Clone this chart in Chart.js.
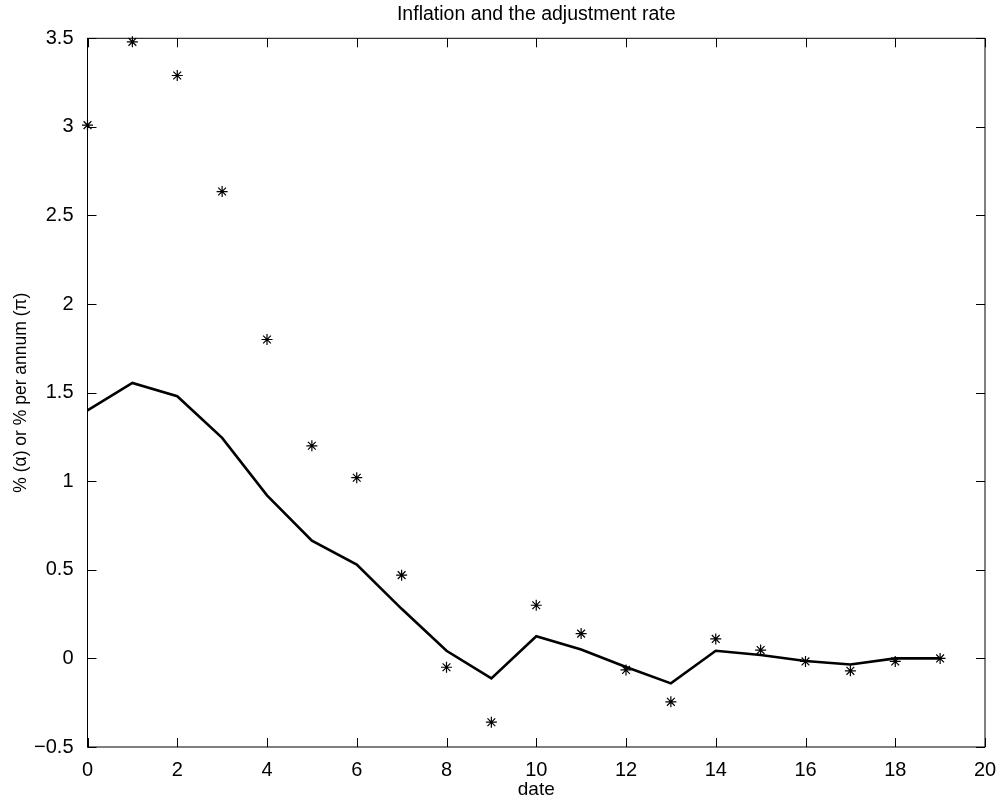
<!DOCTYPE html>
<html>
<head>
<meta charset="utf-8">
<script src="https://cdn.jsdelivr.net/npm/chart.js@4/dist/chart.umd.min.js"></script>
<style>
  html, body { margin: 0; padding: 0; background: #fff; }
  #wrap { width: 1003px; height: 807px; }
</style>
</head>
<body>
<div id="wrap"><canvas id="chart" width="1003" height="807"></canvas></div>
<script>
// dates 0..19
const dates = [0, 1, 2, 3, 4, 5, 6, 7, 8, 9, 10, 11, 12, 13, 14, 15, 16, 17, 18, 19];
// inflation (stars)
const inflation = [3.01, 3.48, 3.29, 2.635, 1.80, 1.20, 1.02, 0.47, -0.05, -0.36,
  0.30, 0.14, -0.065, -0.245, 0.11, 0.047, -0.017, -0.07, -0.017, 0.0];
// adjustment rate (solid line)
const adjustment = [1.40, 1.555, 1.48, 1.245, 0.92, 0.665, 0.53, 0.28, 0.043, -0.113,
  0.125, 0.05, -0.048, -0.141, 0.043, 0.019, -0.015, -0.034, 0.0, 0.0];

const xTicks = [0, 2, 4, 6, 8, 10, 12, 14, 16, 18, 20];
const yTicks = [-0.5, 0, 0.5, 1, 1.5, 2, 2.5, 3, 3.5];

const toXY = (ys) => dates.map((d, i) => ({ x: d, y: ys[i] }));

// MATLAB-style box with inward ticks on all four sides
const boxTicks = {
  id: 'boxTicks',
  afterDraw(chart) {
    const { ctx, chartArea: a, scales } = chart;
    const len = 9;
    ctx.save();
    ctx.strokeStyle = '#000';
    ctx.lineWidth = 1;
    ctx.strokeRect(a.left, a.top, a.right - a.left, a.bottom - a.top);
    ctx.beginPath();
    xTicks.forEach((v) => {
      const px = Math.round(scales.x.getPixelForValue(v)) + 0.5;
      ctx.moveTo(px, a.bottom); ctx.lineTo(px, a.bottom - len);
      ctx.moveTo(px, a.top); ctx.lineTo(px, a.top + len);
    });
    yTicks.forEach((v) => {
      const py = Math.round(scales.y.getPixelForValue(v)) + 0.5;
      ctx.moveTo(a.left, py); ctx.lineTo(a.left + len, py);
      ctx.moveTo(a.right, py); ctx.lineTo(a.right - len, py);
    });
    ctx.stroke();
    ctx.restore();
  }
};

const font = 'Liberation Sans, Arial, Helvetica, sans-serif';

new Chart(document.getElementById('chart'), {
  type: 'scatter',
  data: {
    datasets: [
      {
        label: 'adjustment rate',
        data: toXY(adjustment),
        showLine: true,
        borderColor: '#000',
        borderWidth: 2.6,
        pointRadius: 0,
        fill: false,
        tension: 0,
        clip: false,
      },
      {
        label: 'inflation',
        data: toXY(inflation),
        showLine: false,
        pointStyle: 'star',
        pointRadius: 5.5,
        borderColor: '#000',
        borderWidth: 1.2,
        backgroundColor: '#000',
        clip: false,
      },
    ],
  },
  options: {
    responsive: false,
    animation: false,
    layout: { padding: { left: 0, right: 18, top: 0, bottom: 0 } },
    plugins: {
      legend: { display: false },
      tooltip: { enabled: false },
      title: {
        display: true,
        fullSize: false, // centre over the plot box, like MATLAB
        text: 'Inflation and the adjustment rate',
        color: '#000',
        font: { family: font, size: 19.5, weight: 'normal' },
        padding: { top: 3.3, bottom: 11.6 },
      },
    },
    scales: {
      x: {
        type: 'linear',
        min: 0,
        max: 20,
        afterFit: (s) => { s.height = 60; },
        afterBuildTicks: (s) => { s.ticks = xTicks.map((v) => ({ value: v })); },
        grid: { display: false },
        border: { display: false },
        ticks: { color: '#000', padding: 3, font: { family: font, size: 20 } },
        title: {
          display: true,
          text: 'date',
          color: '#000',
          padding: { top: 0, bottom: 5.6 },
          font: { family: font, size: 19 },
        },
      },
      y: {
        type: 'linear',
        min: -0.5,
        max: 3.5,
        afterFit: (s) => { s.width = 87.5; },
        afterBuildTicks: (s) => { s.ticks = yTicks.map((v) => ({ value: v })); },
        grid: { display: false },
        border: { display: false },
        ticks: {
          color: '#000',
          padding: 6,
          font: { family: font, size: 20 },
          callback: (v) => String(v).replace('-', '\u2212'),
        },
        title: {
          display: true,
          text: '% (\u03b1) or % per annum (\u03c0)',
          color: '#000',
          padding: { top: 11, bottom: 0 },
          font: { family: font, size: 17.5 },
        },
      },
    },
  },
  plugins: [boxTicks],
});
</script>
</body>
</html>
